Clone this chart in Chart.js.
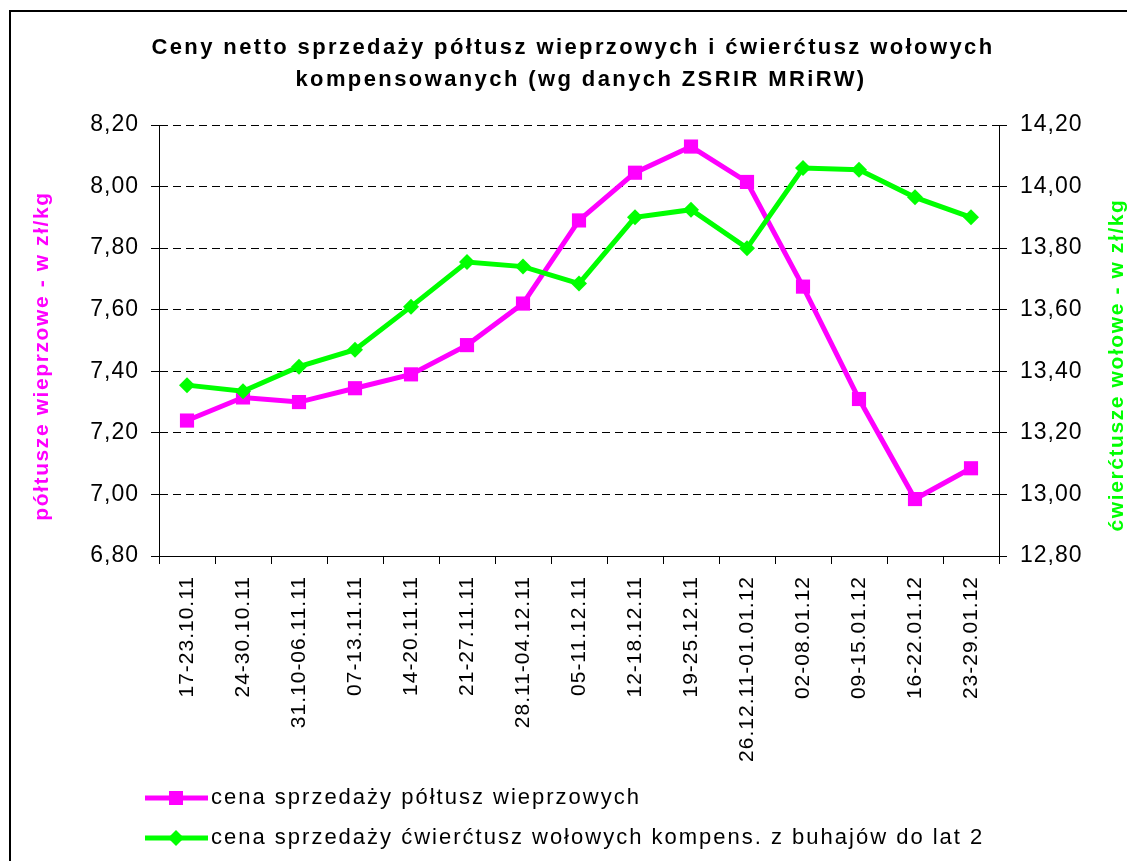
<!DOCTYPE html>
<html>
<head>
<meta charset="utf-8">
<script src="https://cdn.jsdelivr.net/npm/chart.js@4.4.1/dist/chart.umd.min.js"></script>
<style>
    html, body { margin: 0; padding: 0; background: #fff; }
    #chart { display: block; }
</style>
</head>
<body>
<canvas id="chart" width="1127" height="861"></canvas>
<script>
// week ranges on the x axis
const weeks = [
    '17-23.10.11', '24-30.10.11', '31.10-06.11.11', '07-13.11.11', '14-20.11.11',
    '21-27.11.11', '28.11-04.12.11', '05-11.12.11', '12-18.12.11', '19-25.12.11',
    '26.12.11-01.01.12', '02-08.01.12', '09-15.01.12', '16-22.01.12', '23-29.01.12'
];

// zł/kg
const porkPrices = [7.24, 7.315, 7.30, 7.345, 7.39, 7.485, 7.62, 7.89, 8.045, 8.13, 8.015, 7.675, 7.31, 6.985, 7.085];
const beefPrices = [13.355, 13.335, 13.415, 13.47, 13.61, 13.755, 13.74, 13.685, 13.90, 13.925, 13.80, 14.06, 14.055, 13.965, 13.90];

const titleLines = [
    'Ceny netto sprzedaży półtusz wieprzowych i ćwierćtusz wołowych',
    'kompensowanych (wg danych ZSRIR MRiRW)'
];
const porkLabel = 'cena sprzedaży półtusz wieprzowych';
const beefLabel = 'cena sprzedaży ćwierćtusz wołowych kompens. z buhajów do lat 2';
const porkAxisTitle = 'półtusze wieprzowe - w zł/kg';
const beefAxisTitle = 'ćwierćtusze wołowe - w zł/kg';

const PINK = '#ff00ff';
const GREEN = '#00ff00';
const FONT = "'Liberation Sans', Arial, sans-serif";

const commaFormat = (value) => value.toFixed(2).replace('.', ',');

// border, title, axis titles and legend drawn straight on the canvas
const decorations = {
    id: 'decorations',
    beforeDraw(chart) {
        const ctx = chart.ctx;
        ctx.save();
        ctx.fillStyle = '#fff';
        ctx.fillRect(0, 0, chart.width, chart.height);
        ctx.strokeStyle = '#000';
        ctx.lineWidth = 2;
        ctx.strokeRect(10, 11, chart.width + 20, chart.height + 20);
        ctx.restore();
        ctx.letterSpacing = '1px';
    },
    afterDraw(chart) {
        const ctx = chart.ctx;
        ctx.save();
        ctx.fillStyle = '#000';
        ctx.textAlign = 'center';
        ctx.textBaseline = 'middle';
        ctx.font = 'bold 22px ' + FONT;
        ctx.letterSpacing = '2.4px';
        ctx.fillText(titleLines[0], 573, 48);
        ctx.fillText(titleLines[1], 581, 80);

        ctx.letterSpacing = '1.6px';
        ctx.font = 'bold 21px ' + FONT;
        ctx.save();
        ctx.translate(42, 356);
        ctx.rotate(-Math.PI / 2);
        ctx.fillStyle = PINK;
        ctx.fillText(porkAxisTitle, 0, 0);
        ctx.restore();
        ctx.save();
        ctx.translate(1117, 365);
        ctx.rotate(-Math.PI / 2);
        ctx.fillStyle = GREEN;
        ctx.fillText(beefAxisTitle, 0, 0);
        ctx.restore();

        // legend
        const rows = [
            { label: porkLabel, color: PINK, marker: 'square', y: 798 },
            { label: beefLabel, color: GREEN, marker: 'diamond', y: 838 }
        ];
        ctx.font = '22px ' + FONT;
        ctx.letterSpacing = '2px';
        ctx.textAlign = 'left';
        rows.forEach((row) => {
            ctx.strokeStyle = row.color;
            ctx.fillStyle = row.color;
            ctx.lineWidth = 5;
            ctx.beginPath();
            ctx.moveTo(145, row.y);
            ctx.lineTo(208, row.y);
            ctx.stroke();
            if (row.marker === 'square') {
                ctx.fillRect(169, row.y - 7, 14, 14);
            } else {
                ctx.beginPath();
                ctx.moveTo(176, row.y - 8);
                ctx.lineTo(184, row.y);
                ctx.lineTo(176, row.y + 8);
                ctx.lineTo(168, row.y);
                ctx.closePath();
                ctx.fill();
            }
            ctx.fillStyle = '#000';
            ctx.fillText(row.label, 211, row.y);
        });
        ctx.restore();
    }
};

const ctx = document.getElementById('chart').getContext('2d');
const chart = new Chart(ctx, {
    type: 'line',
    data: {
        labels: weeks,
        datasets: [{
            label: porkLabel,
            data: porkPrices,
            yAxisID: 'yPork',
            borderColor: PINK,
            backgroundColor: PINK,
            borderWidth: 5,
            pointStyle: 'rect',
            pointRadius: 10,
            pointBorderWidth: 0,
            tension: 0,
            order: 1
        }, {
            label: beefLabel,
            data: beefPrices,
            yAxisID: 'yBeef',
            borderColor: GREEN,
            backgroundColor: GREEN,
            borderWidth: 5,
            pointStyle: 'rectRot',
            pointRadius: 8,
            pointBorderWidth: 0,
            tension: 0,
            order: 0
        }]
    },
    options: {
        responsive: false,
        animation: false,
        layout: { padding: { top: 125, left: 0, right: 0, bottom: 0 } },
        plugins: {
            legend: { display: false },
            title: { display: false },
            tooltip: { enabled: false }
        },
        scales: {
            x: {
                offset: true,
                grid: { offset: true, drawOnChartArea: false, color: '#000', tickLength: 8 },
                border: { color: '#000', width: 1 },
                ticks: {
                    autoSkip: false,
                    minRotation: 90,
                    maxRotation: 90,
                    padding: 12,
                    color: '#000',
                    font: { family: FONT, size: 21 }
                },
                afterFit: (scale) => { scale.height = 305; }
            },
            yPork: {
                position: 'left',
                min: 6.8,
                max: 8.2,
                ticks: {
                    stepSize: 0.2,
                    padding: 12,
                    color: '#000',
                    font: { family: FONT, size: 23 },
                    callback: commaFormat
                },
                grid: { color: '#000', tickLength: 8 },
                border: { color: '#000', width: 1, dash: [8, 5] },
                afterFit: (scale) => { scale.width = 159; }
            },
            yBeef: {
                position: 'right',
                min: 12.8,
                max: 14.2,
                ticks: {
                    stepSize: 0.2,
                    padding: 13,
                    color: '#000',
                    font: { family: FONT, size: 23 },
                    callback: commaFormat
                },
                grid: { color: '#000', tickLength: 8, drawOnChartArea: false },
                border: { color: '#000', width: 1 },
                afterFit: (scale) => { scale.width = 128; }
            }
        }
    },
    plugins: [decorations]
});
</script>
</body>
</html>
